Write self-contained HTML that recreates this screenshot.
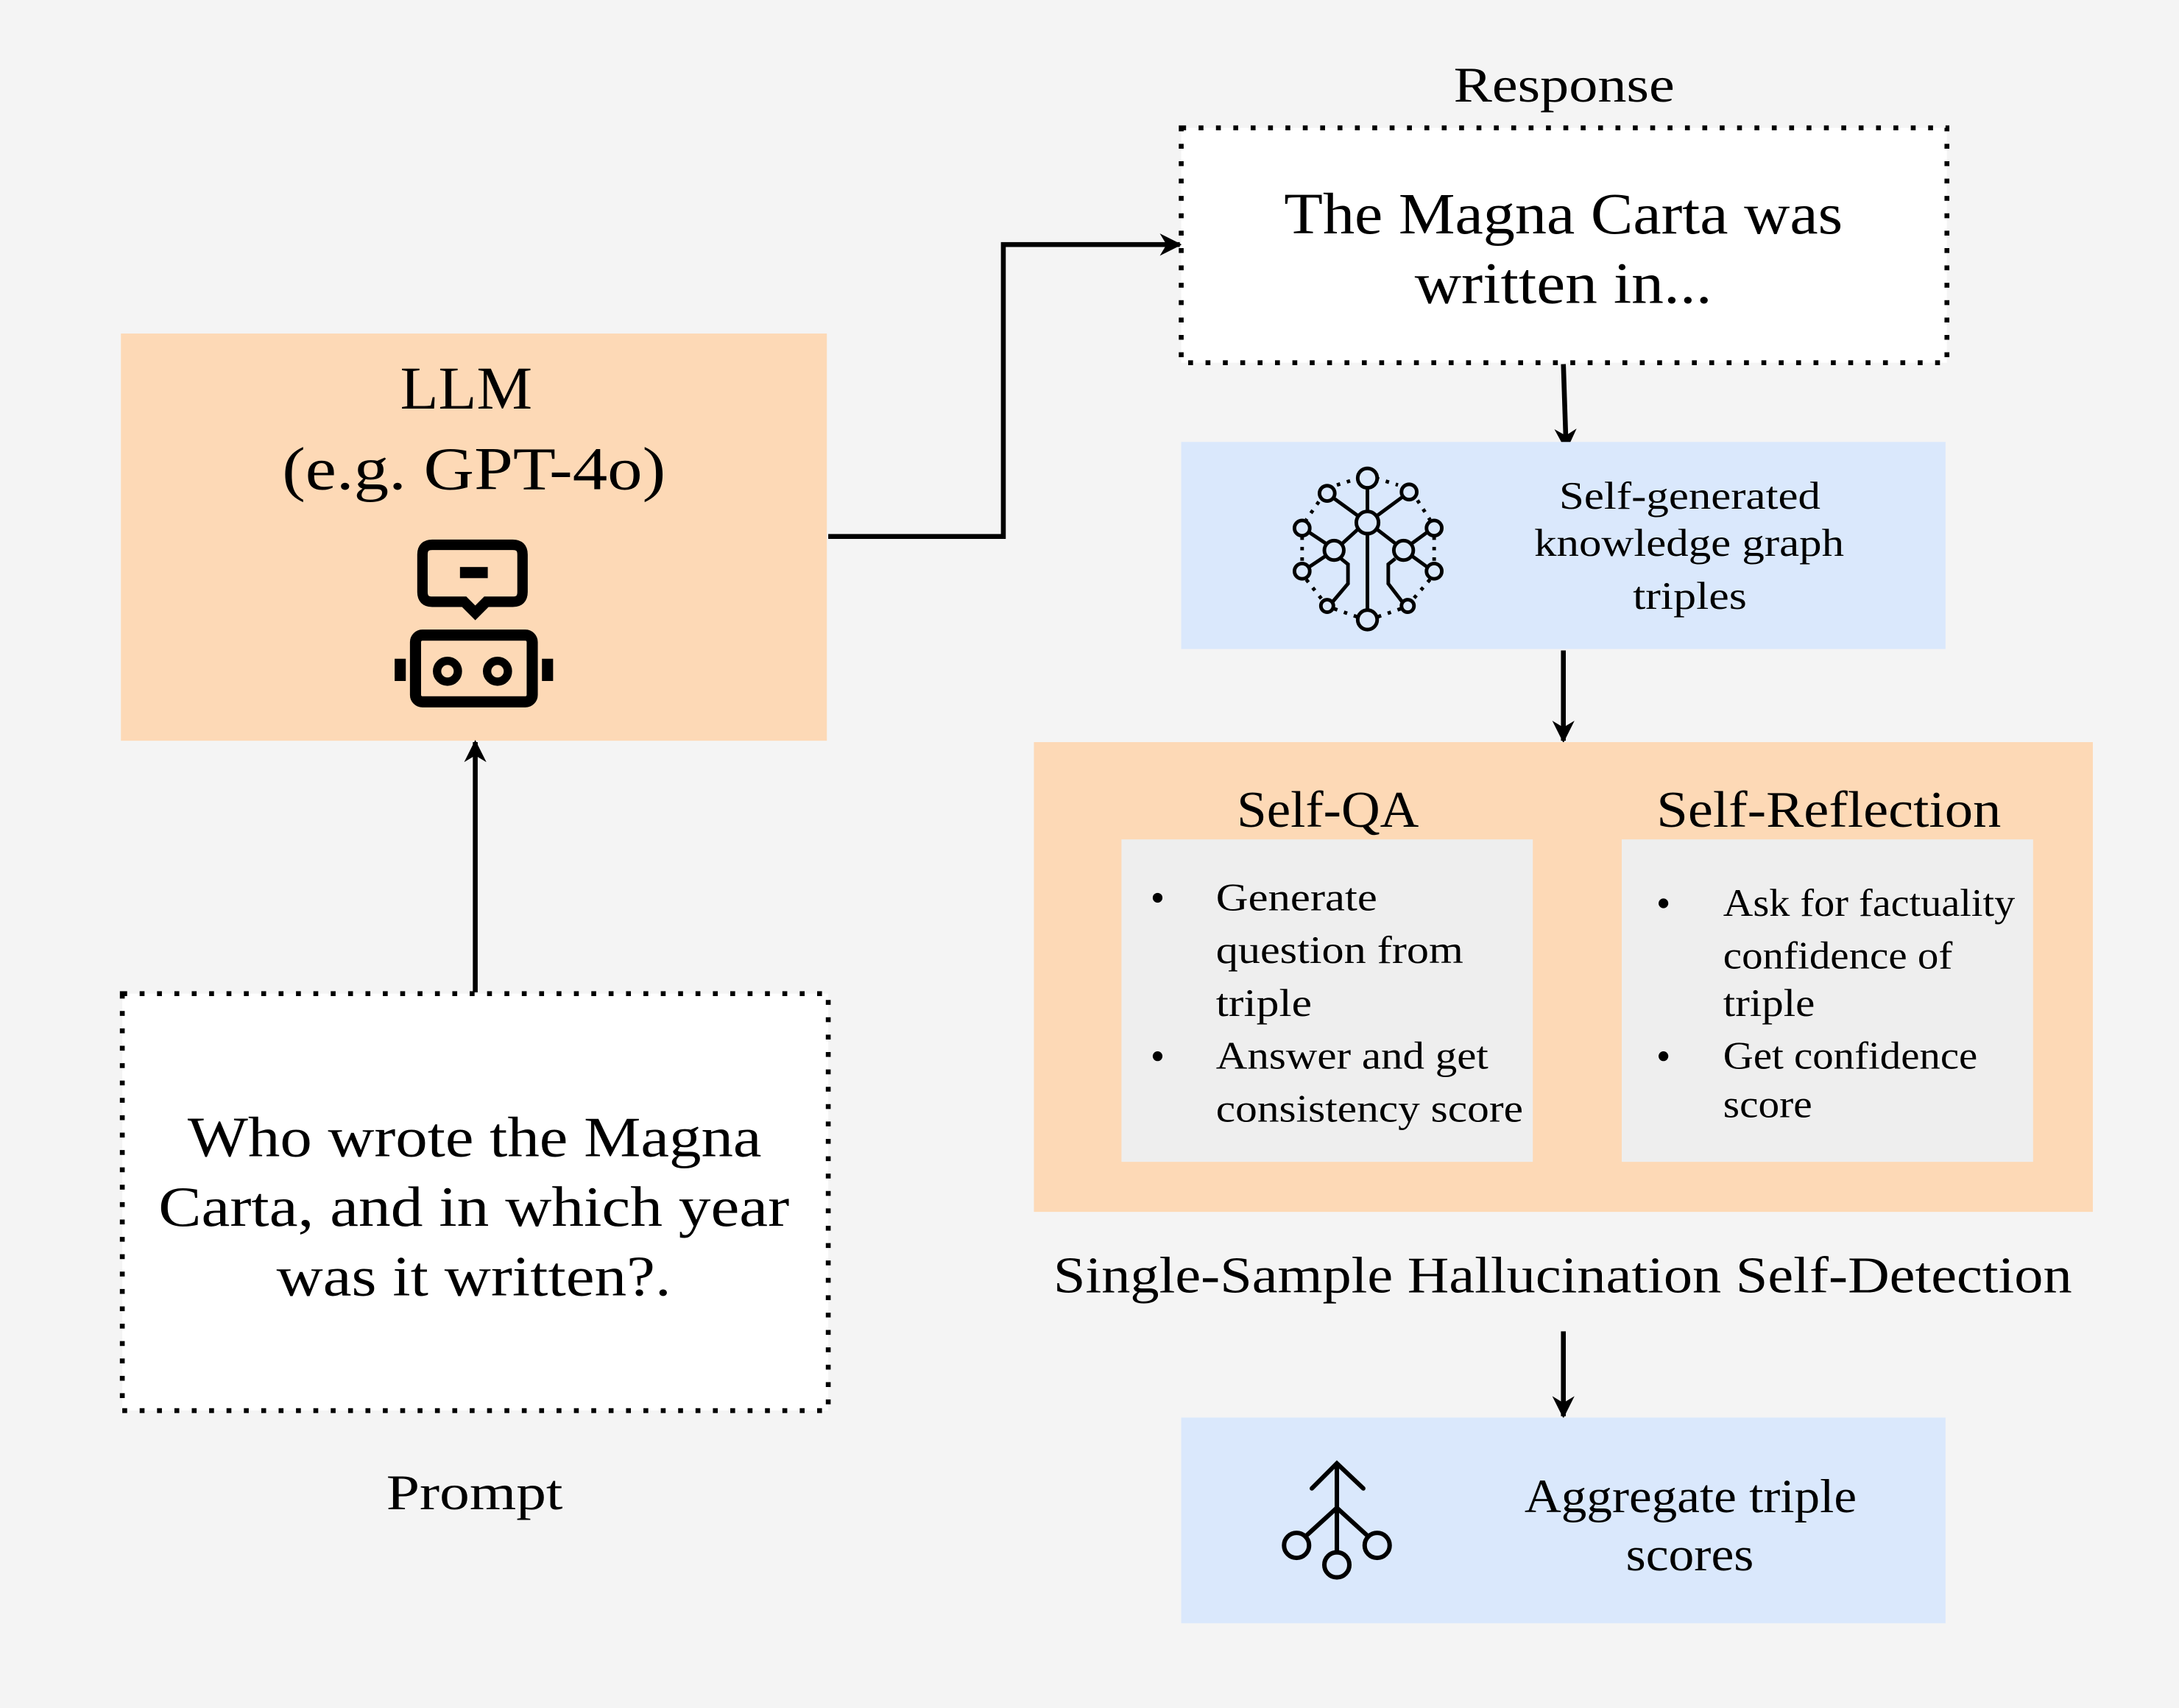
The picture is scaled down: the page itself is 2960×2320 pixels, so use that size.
<!DOCTYPE html>
<html><head><meta charset="utf-8"><style>
html,body{margin:0;padding:0;background:#f4f4f4;}
svg{display:block;}
text{font-family:"Liberation Serif",serif;fill:#000;}
</style></head><body>
<svg width="2960" height="2320" viewBox="0 0 1568 1229" preserveAspectRatio="none" xmlns="http://www.w3.org/2000/svg">
<defs>
<marker id="ah" viewBox="0 0 10 10" refX="9" refY="5" markerWidth="16" markerHeight="16" orient="auto" markerUnits="userSpaceOnUse">
<path d="M0,0 L10,5 L0,10 L3,5 z" fill="#000"/>
</marker>
</defs>
<rect x="0" y="0" width="1568" height="1229" fill="#f4f4f4"/>

<!-- LLM box -->
<rect x="87" y="240" width="508" height="293" fill="#fdd9b6"/>
<text x="288" y="294" font-size="44" textLength="95" lengthAdjust="spacingAndGlyphs">LLM</text>
<text x="203" y="352" font-size="44" textLength="276" lengthAdjust="spacingAndGlyphs">(e.g. GPT-4o)</text>
<!-- robot icon -->
<g fill="none" stroke="#000" stroke-width="8">
<path d="M311,392 H369 Q376,392 376,399 V426 Q376,433 369,433 H350 L342,441 L334,433 H311 Q304,433 304,426 V399 Q304,392 311,392 Z" stroke-width="7.5"/>
<rect x="299" y="457" width="84" height="48" rx="5"/>
<circle cx="322" cy="483" r="7.5" stroke-width="6"/>
<circle cx="358" cy="483" r="7.5" stroke-width="6"/>
</g>
<rect x="331" y="408" width="20" height="8" fill="#000"/>
<rect x="284" y="474" width="8" height="16" fill="#000"/>
<rect x="390" y="474" width="8" height="16" fill="#000"/>

<!-- prompt dotted box -->
<rect x="88" y="715" width="508" height="300" fill="#fff" stroke="#000" stroke-width="3.5" stroke-dasharray="3.5 9"/>
<text x="135" y="832" font-size="41" textLength="413" lengthAdjust="spacingAndGlyphs">Who wrote the Magna</text>
<text x="114" y="882" font-size="41" textLength="454" lengthAdjust="spacingAndGlyphs">Carta, and in which year</text>
<text x="199" y="932" font-size="41" textLength="284" lengthAdjust="spacingAndGlyphs">was it written?.</text>
<text x="278" y="1086" font-size="36" textLength="127" lengthAdjust="spacingAndGlyphs">Prompt</text>
<line x1="342" y1="714" x2="342" y2="534" stroke="#000" stroke-width="3.5" marker-end="url(#ah)"/>

<!-- connector LLM -> response -->
<polyline points="596,386 722,386 722,176 849,176" fill="none" stroke="#000" stroke-width="3.5" marker-end="url(#ah)"/>

<!-- response -->
<text x="1046" y="73" font-size="36" textLength="159" lengthAdjust="spacingAndGlyphs">Response</text>
<rect x="850" y="92" width="551" height="169" fill="#fff" stroke="#000" stroke-width="3.5" stroke-dasharray="3.5 9"/>
<text x="924" y="168" font-size="42" textLength="402" lengthAdjust="spacingAndGlyphs">The Magna Carta was</text>
<text x="1018" y="218" font-size="42" textLength="214" lengthAdjust="spacingAndGlyphs">written in...</text>
<line x1="1125" y1="262" x2="1127" y2="323" stroke="#000" stroke-width="3.5" marker-end="url(#ah)"/>

<!-- KG box -->
<rect x="850" y="318" width="550" height="149" fill="#dae8fc"/>
<text x="1122" y="366" font-size="28" textLength="188" lengthAdjust="spacingAndGlyphs">Self-generated</text>
<text x="1104" y="400" font-size="28" textLength="223" lengthAdjust="spacingAndGlyphs">knowledge graph</text>
<text x="1175" y="438" font-size="28" textLength="82" lengthAdjust="spacingAndGlyphs">triples</text>
<g fill="none" stroke="#000" stroke-width="2.6">
<circle cx="984" cy="376" r="8"/>
<circle cx="984" cy="344" r="7"/>
<circle cx="984" cy="446" r="7"/>
<circle cx="960" cy="396" r="7"/>
<circle cx="1010" cy="396" r="7"/>
<circle cx="955" cy="355" r="5.5"/>
<circle cx="1014" cy="354" r="5.5"/>
<circle cx="937" cy="380" r="5.5"/>
<circle cx="937" cy="411" r="5.5"/>
<circle cx="1032" cy="380" r="5.5"/>
<circle cx="1032" cy="411" r="5.5"/>
<circle cx="955" cy="436" r="4.5"/>
<circle cx="1013" cy="436" r="4.5"/>
<path d="M984,351 V368 M984,384 V439 M959,358 L977,371 M1010,357 L991,371 M977,381 L966,391 M991,381 L1004,391 M942,383 L954,391 M942,408 L954,400 M1027,383 L1016,391 M1027,408 L1016,400 M965,402 L970,406 V420 L959,433 M1004,402 L999,406 V420 L1009,433"/>
<path d="M962,349 L978,344 M990,344 L1006,349 M949,361 L940,374 M1020,360 L1029,374 M937,386 V405 M1032,386 V405 M940,417 L951,431 M1029,417 L1017,431 M960,438 L977,444 M1008,438 L991,444" stroke-dasharray="2.5 5"/>
</g>
<line x1="1125" y1="468" x2="1125" y2="533" stroke="#000" stroke-width="3.5" marker-end="url(#ah)"/>

<!-- methods box -->
<rect x="744" y="534" width="762" height="338" fill="#fdd9b6"/>
<text x="890" y="595" font-size="37" textLength="131" lengthAdjust="spacingAndGlyphs">Self-QA</text>
<text x="1192" y="595" font-size="37" textLength="248" lengthAdjust="spacingAndGlyphs">Self-Reflection</text>
<rect x="807" y="604" width="296" height="232" fill="#eeeeee"/>
<rect x="1167" y="604" width="296" height="232" fill="#eeeeee"/>
<g font-size="28">
<circle cx="833" cy="646" r="3.5" fill="#000"/>
<text x="875" y="655" textLength="116" lengthAdjust="spacingAndGlyphs">Generate</text>
<text x="875" y="693" textLength="178" lengthAdjust="spacingAndGlyphs">question from</text>
<text x="875" y="731" textLength="69" lengthAdjust="spacingAndGlyphs">triple</text>
<circle cx="833" cy="760" r="3.5" fill="#000"/>
<text x="875" y="769" textLength="196" lengthAdjust="spacingAndGlyphs">Answer and get</text>
<text x="875" y="807" textLength="221" lengthAdjust="spacingAndGlyphs">consistency score</text>
<circle cx="1197" cy="650" r="3.5" fill="#000"/>
<text x="1240" y="659" textLength="210" lengthAdjust="spacingAndGlyphs">Ask for factuality</text>
<text x="1240" y="697" textLength="165" lengthAdjust="spacingAndGlyphs">confidence of</text>
<text x="1240" y="731" textLength="66" lengthAdjust="spacingAndGlyphs">triple</text>
<circle cx="1197" cy="760" r="3.5" fill="#000"/>
<text x="1240" y="769" textLength="183" lengthAdjust="spacingAndGlyphs">Get confidence</text>
<text x="1240" y="804" textLength="64" lengthAdjust="spacingAndGlyphs">score</text>
</g>
<text x="758" y="930" font-size="37" textLength="733" lengthAdjust="spacingAndGlyphs">Single-Sample Hallucination Self-Detection</text>
<line x1="1125" y1="958" x2="1125" y2="1019" stroke="#000" stroke-width="3.5" marker-end="url(#ah)"/>

<!-- aggregate -->
<rect x="850" y="1020" width="550" height="148" fill="#dae8fc"/>
<text x="1097" y="1088" font-size="34" textLength="239" lengthAdjust="spacingAndGlyphs">Aggregate triple</text>
<text x="1170" y="1130" font-size="34" textLength="92" lengthAdjust="spacingAndGlyphs">scores</text>
<g fill="none" stroke="#000" stroke-width="3.2" stroke-linecap="round">
<path d="M944,1071 L962,1053 L981,1071 M962,1053 V1117 M962,1085 L940,1105 M962,1085 L984,1105"/>
<circle cx="933" cy="1112" r="9"/>
<circle cx="991" cy="1112" r="9"/>
<circle cx="962" cy="1126" r="9"/>
</g>
</svg>
</body></html>
